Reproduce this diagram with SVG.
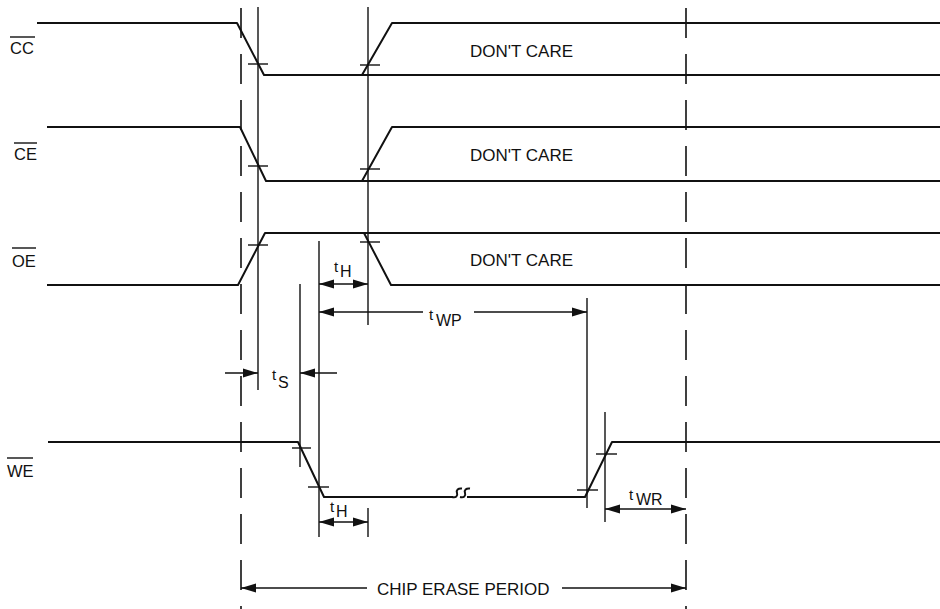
<svg xmlns="http://www.w3.org/2000/svg" width="940" height="609" viewBox="0 0 940 609">
<style>
.sig{fill:none;stroke:#111;stroke-width:2;stroke-linejoin:round}
.v{fill:none;stroke:#111;stroke-width:1.4}
.tick{fill:none;stroke:#111;stroke-width:1.4}
.dash{fill:none;stroke:#111;stroke-width:1.6;stroke-dasharray:30 16}
.arr{fill:none;stroke:#111;stroke-width:1.4}
.lbl{font-family:"Liberation Sans",Arial,sans-serif;font-size:16.5px;fill:#111}
.dc{font-family:"Liberation Sans",Arial,sans-serif;font-size:17px;fill:#111}
.t{font-family:"Liberation Sans",Arial,sans-serif;font-size:15px;fill:#111}
.sub{font-size:16px}
</style>
<defs>
<marker id="ah" markerUnits="userSpaceOnUse" markerWidth="16" markerHeight="10" refX="15" refY="5" orient="auto-start-reverse">
<path d="M0,0.5 L15,5 L0,9.5 z" fill="#111"/>
</marker>
</defs>
<rect width="940" height="609" fill="#fff"/>

<g id="reference-lines">
<line class="dash" x1="241" y1="8" x2="241" y2="609"/>
<line class="dash" x1="686" y1="8" x2="686" y2="609"/>
<line class="v" x1="258" y1="7" x2="258" y2="390"/>
<line class="v" x1="368" y1="7" x2="368" y2="325"/>
<line class="v" x1="319" y1="241" x2="319" y2="537"/>
<line class="v" x1="300" y1="284" x2="300" y2="467"/>
<line class="v" x1="587" y1="298" x2="587" y2="508"/>
<line class="v" x1="605" y1="412" x2="605" y2="522"/>
<line class="v" x1="368" y1="508" x2="368" y2="537"/>
</g>

<g id="sig-cc">
<line class="v" x1="10" y1="37" x2="35" y2="37"/>
<text class="lbl" x="10" y="54">CC</text>
<polyline class="sig" points="37,23 237,23 264,75 940,75"/>
<polyline class="sig" points="362,75 392,23 940,23"/>
<line class="tick" x1="248" y1="64" x2="268" y2="64"/>
<line class="tick" x1="360" y1="65" x2="380" y2="65"/>
<text class="dc" x="470" y="57">DON'T CARE</text>
</g>

<g id="sig-ce">
<line class="v" x1="14" y1="143" x2="37" y2="143"/>
<text class="lbl" x="14" y="160">CE</text>
<polyline class="sig" points="47,127 240,127 266,181 940,181"/>
<polyline class="sig" points="362,181 392,127 940,127"/>
<line class="tick" x1="248" y1="166" x2="268" y2="166"/>
<line class="tick" x1="360" y1="169" x2="380" y2="169"/>
<text class="dc" x="470" y="161">DON'T CARE</text>
</g>

<g id="sig-oe">
<line class="v" x1="12" y1="248" x2="36" y2="248"/>
<text class="lbl" x="12" y="267">OE</text>
<polyline class="sig" points="47,285 238,285 265,233 940,233"/>
<polyline class="sig" points="364,233 391,285 940,285"/>
<line class="tick" x1="248" y1="245" x2="268" y2="245"/>
<line class="tick" x1="360" y1="242" x2="380" y2="242"/>
<text class="dc" x="470" y="266">DON'T CARE</text>
</g>

<g id="sig-we">
<line class="v" x1="7" y1="458" x2="33" y2="458"/>
<text class="lbl" x="7" y="477">WE</text>
<polyline class="sig" points="48,442 298,442 324,497 453,497"/>
<path class="sig" d="M452,497 C456,498 458,496 457,493 C456,490 458,488 462,488.5"/>
<path class="sig" d="M460,497 C464,498 466,496 465,493 C464,490 466,488 470,488.5"/>
<polyline class="sig" points="467,497 585,497 612,442 940,442"/>
<line class="tick" x1="292" y1="448" x2="311" y2="448"/>
<line class="tick" x1="308" y1="487" x2="329" y2="487"/>
<line class="tick" x1="577" y1="490" x2="598" y2="490"/>
<line class="tick" x1="596" y1="454" x2="617" y2="454"/>
</g>

<g id="connectors">
<line class="arr" x1="225" y1="373" x2="258" y2="373" marker-end="url(#ah)"/>
<line class="arr" x1="337" y1="373" x2="300" y2="373" marker-end="url(#ah)"/>
<line class="arr" x1="319" y1="284" x2="368" y2="284" marker-start="url(#ah)" marker-end="url(#ah)"/>
<line class="arr" x1="319" y1="312" x2="423" y2="312" marker-start="url(#ah)"/>
<line class="arr" x1="474" y1="312" x2="587" y2="312" marker-end="url(#ah)"/>
<line class="arr" x1="319" y1="522" x2="368" y2="522" marker-start="url(#ah)" marker-end="url(#ah)"/>
<line class="arr" x1="605" y1="509" x2="686" y2="509" marker-start="url(#ah)" marker-end="url(#ah)"/>
<line class="arr" x1="241" y1="588" x2="367" y2="588" marker-start="url(#ah)"/>
<line class="arr" x1="562" y1="588" x2="686" y2="588" marker-end="url(#ah)"/>
</g>

<g id="labels">
<text class="t" x="272" y="380">t<tspan class="sub" x="278" y="388">S</tspan></text>
<text class="t" x="334" y="272">t<tspan class="sub" x="340" y="277">H</tspan></text>
<text class="t" x="429" y="320">t<tspan class="sub" x="436" y="326">WP</tspan></text>
<text class="t" x="330" y="512">t<tspan class="sub" x="336" y="517">H</tspan></text>
<text class="t" x="629" y="500">t<tspan class="sub" x="636" y="505">WR</tspan></text>
<text class="dc" x="377" y="595">CHIP ERASE PERIOD</text>
</g>
</svg>
